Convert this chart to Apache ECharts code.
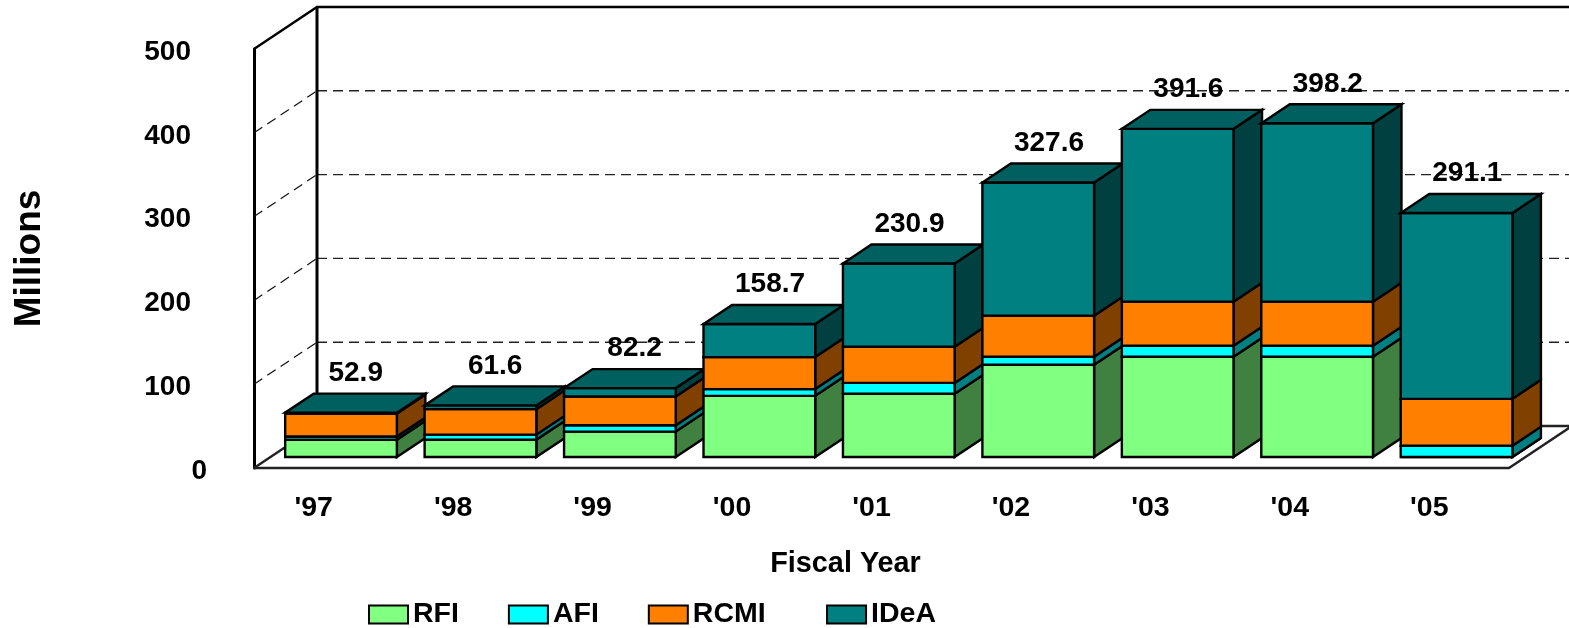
<!DOCTYPE html>
<html><head><meta charset="utf-8">
<style>html,body{margin:0;padding:0;background:#fff;overflow:hidden}#c{width:1569px;height:628px}</style>
<script src="https://cdn.jsdelivr.net/npm/echarts@6/dist/echarts.min.js"></script>
</head><body><div id="c"></div>
<script>
const years = ["'97","'98","'99","'00","'01","'02","'03","'04","'05"];
const RFI  = [20.5, 20.5, 30.3, 73.0, 75.4, 110.0, 119.6, 119.6, 0];
const AFI  = [4.0, 6.2, 7.6, 8.0, 13.0, 9.6, 13.2, 13.2, 13.5];
const RCMI = [27.4, 30.4, 34.3, 38.2, 43.1, 49.1, 52.6, 52.6, 55.9];
const IDeA = [1.0, 4.5, 10.0, 39.5, 99.4, 158.9, 206.2, 212.8, 221.7];
const totals = ["52.9","61.6","82.2","158.7","230.9","327.6","391.6","398.2","291.1"];
const gridValues = [100, 200, 300, 400];
const FONT = '"Liberation Sans", Arial, sans-serif';

const stacks = [
  {name:'RFI',  values:RFI,  color:'#80FF80', side:'#408040', top:'#60BF60'},
  {name:'AFI',  values:AFI,  color:'#00FFFF', side:'#008080', top:'#00BFBF'},
  {name:'RCMI', values:RCMI, color:'#FF8000', side:'#804000', top:'#BF6000'},
  {name:'IDeA', values:IDeA, color:'#008080', side:'#004040', top:'#006060'}
];
const WALL_DX = 63, WALL_DY = -42;
const DEPTH_DX = 28.5, DEPTH_DY = -19;
const BAR_LIFT = 11, BAR_SHIFT = 17.3, BAR_FRACTION = 0.801, LABEL_SHIFT = 32, LABEL_RISE = 20.5;

function wallItem(params, api) {
  const cs = params.coordSys;
  const v = api.value(0);
  const y = api.coord([0, v])[1];
  const x0 = cs.x, x1 = cs.x + cs.width;
  const dash = {stroke:'#111', lineWidth:1.2, lineDash:[10,6], fill:null};
  return {type:'group', children:[
    {type:'line', z2:1, shape:{x1:x0,y1:y,x2:x0+WALL_DX,y2:y+WALL_DY}, style:dash},
    {type:'line', z2:1, shape:{x1:x0+WALL_DX,y1:y+WALL_DY,x2:x1+WALL_DX,y2:y+WALL_DY}, style:Object.assign({},dash,{stroke:'#222',lineWidth:1.4})}
  ]};
}
function frameItem(params, api) {
  const cs = params.coordSys;
  const yTop = cs.y, yBot = cs.y + cs.height, x0 = cs.x, x1 = cs.x + cs.width;
  const bx0 = x0+WALL_DX, bx1 = x1+WALL_DX;
  const heavy = {stroke:'#000', lineWidth:3, fill:null};
  const light = {stroke:'#222', lineWidth:2.4, fill:null};
  return {type:'group', children:[
    {type:'polyline', z2:2, shape:{points:[[x0,yTop],[bx0,yTop+WALL_DY],[bx1,yTop+WALL_DY]]}, style:{stroke:'#000',lineWidth:2.4,fill:null}},
    {type:'line', z2:2, shape:{x1:bx0,y1:yTop+WALL_DY,x2:bx0,y2:yBot+WALL_DY}, style:heavy},
    {type:'polyline', z2:2, shape:{points:[[x0,yBot],[bx0,yBot+WALL_DY],[bx1,yBot+WALL_DY],[x1,yBot]]}, style:light}
  ]};
}
function barItem(stackIdx) {
  return function (params, api) {
    const cat = api.value(0);
    const lo = api.coord([cat, api.value(1)]);
    const hi = api.coord([cat, api.value(2)]);
    const w = api.size([1, 0])[0] * BAR_FRACTION;
    const xl = lo[0] + BAR_SHIFT - w / 2, xr = xl + w;
    const yb = lo[1] - BAR_LIFT, yt = hi[1] - BAR_LIFT;
    const s = stacks[stackIdx];
    const z = 10 + cat * 10 + stackIdx;
    const line = {stroke:'#000', lineWidth:2.4, lineJoin:'miter'};
    const kids = [
      {type:'polygon', z2:z, shape:{points:[[xr,yb],[xr+DEPTH_DX,yb+DEPTH_DY],[xr+DEPTH_DX,yt+DEPTH_DY],[xr,yt]]}, style:Object.assign({fill:s.side},line)},
      {type:'polygon', z2:z, shape:{points:[[xl,yb],[xr,yb],[xr,yt],[xl,yt]]}, style:Object.assign({fill:s.color},line)}
    ];
    if (stackIdx === stacks.length - 1) {
      kids.push({type:'polygon', z2:z, shape:{points:[[xl,yt],[xr,yt],[xr+DEPTH_DX,yt+DEPTH_DY],[xl+DEPTH_DX,yt+DEPTH_DY]]}, style:Object.assign({fill:s.top},line)});
      const wide = totals[cat].length > 4 ? -4 : 0;
      kids.push({type:'text', z2:500, x:lo[0]+LABEL_SHIFT+wide, y:yt+DEPTH_DY-LABEL_RISE,
        style:{text:totals[cat], fill:'#000', font:'bold 28px '+FONT, textAlign:'center', textVerticalAlign:'middle'}});
    }
    return {type:'group', children:kids};
  };
}
const running = years.map(()=>0);
const barSeries = stacks.map((s, i) => {
  const data = s.values.map((v, c) => { const a = running[c]; running[c] = a + v; return [c, a, a + v]; });
  return {type:'custom', name:s.name, coordinateSystem:'cartesian2d', renderItem:barItem(i),
    itemStyle:{color:s.color, borderColor:'#000', borderWidth:2.4},
    encode:{x:0, y:2}, data, clip:false, animation:false};
});
const chart = echarts.init(document.getElementById('c'), null, {renderer:'canvas'});
chart.setOption({
  animation:false,
  backgroundColor:'#fff',
  textStyle:{fontFamily:FONT},
  grid:{left:254, right:60, top:49, bottom:160, containLabel:false},
  legend:{
    data:stacks.map(s=>s.name), left:363, top:595, itemWidth:39, itemHeight:18, itemGap:49, icon:'rect',
    selectedMode:false,
    formatter:n=> n==='RCMI' ? 'RCMI\u2009\u2009' : n,
    textStyle:{fontFamily:FONT, fontWeight:'bold', fontSize:28.5, color:'#000'}
  },
  xAxis:{type:'category', data:years, name:'Fiscal Year', nameLocation:'middle', nameGap:82,
    nameTextStyle:{fontFamily:FONT, fontWeight:'bold', fontSize:28.8, color:'#000', padding:[0,72,0,0]},
    axisTick:{show:false}, axisLine:{show:true,lineStyle:{color:'#222',width:2.4}},
    axisLabel:{interval:0, margin:26, color:'#000', fontFamily:FONT, fontWeight:'bold', fontSize:28.5, padding:[0,20,0,0]}},
  yAxis:{type:'value', min:0, max:500, interval:100, name:'Millions', nameLocation:'middle', nameGap:206, nameRotate:90,
    nameTextStyle:{fontFamily:FONT, fontWeight:'bold', fontSize:37, color:'#000'},
    splitLine:{show:false}, axisTick:{show:false}, axisLine:{show:true,lineStyle:{color:'#000',width:3}},
    axisLabel:{margin:47, color:'#000', fontFamily:FONT, fontWeight:'bold', fontSize:28, padding:[6,0,0,0],
      formatter:v=> v===0 ? '0' : '{a|'+v+'}',
      rich:{a:{fontFamily:FONT, fontWeight:'bold', fontSize:28, color:'#000', padding:[0,16,0,0]}}}},
  series:[
    {type:'custom', name:'grid', renderItem:wallItem, data:gridValues.map(v=>[v]), encode:{y:0}, silent:true, clip:false},
    {type:'custom', name:'frame', renderItem:frameItem, data:[[0]], encode:{y:0}, silent:true, clip:false}
  ].concat(barSeries)
});
</script></body></html>
